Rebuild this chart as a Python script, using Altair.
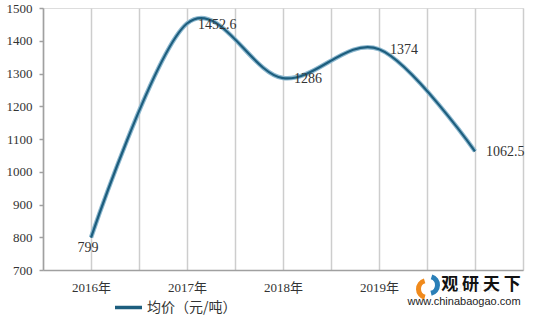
import json
import altair as alt
import pandas as pd

years = ["2016年", "2017年", "2018年", "2019年", "2020年"]
prices = [799, 1452.6, 1286, 1374, 1062.5]
price_labels = ["799", "1452.6", "1286", "1374", "1062.5"]
series_name = "均价（元/吨）"
y_ticks = [700, 800, 900, 1000, 1100, 1200, 1300, 1400, 1500]
x_grid = [-0.5, 0, 0.5, 1, 1.5, 2, 2.5, 3, 3.5, 4, 4.5]
logo_title = ["观 研 天 下"]
logo_url = ["www.chinabaogao.com"]

df = pd.DataFrame({
    "idx": list(range(len(years))),
    "year": years,
    "price": prices,
    "label": price_labels,
    "series": [series_name] * len(years),
})

SERIF = "Liberation Serif, Noto Sans CJK SC"
TXT = "#333333"

label_expr = "datum.value % 1 === 0 ? " + json.dumps(years, ensure_ascii=False) + "[datum.value] : ''"

x_enc = alt.X(
    "idx:Q",
    scale=alt.Scale(domain=[-0.5, 4.5], nice=False, zero=False),
    axis=alt.Axis(
        values=x_grid, grid=True, gridColor="#cdcdcd", gridWidth=1.5,
        ticks=False, domainColor="#a0a0a0", domainWidth=1.5,
        labelExpr=label_expr, title=None, labelFont=SERIF, labelFontSize=13,
        labelPadding=11, labelColor=TXT, labelOverlap=False, labelFlush=False,
    ),
)
y_enc = alt.Y(
    "price:Q",
    scale=alt.Scale(domain=[700, 1500], nice=False, zero=False),
    axis=alt.Axis(
        values=y_ticks, format="d", grid=False, tickSize=4, tickColor="#a0a0a0", tickWidth=1.5,
        domainColor="#a0a0a0", domainWidth=1.5, title=None, labelFont=SERIF,
        labelFontSize=13, labelPadding=7, labelColor=TXT,
    ),
)

base = alt.Chart(df).encode(x=x_enc, y=y_enc)

outer = base.mark_line(interpolate="cardinal", tension=0, color="#8db8cf", strokeWidth=4.5)
inner = base.mark_line(interpolate="cardinal", tension=0, strokeWidth=2.2).encode(
    color=alt.Color(
        "series:N",
        scale=alt.Scale(domain=[series_name], range=["#1d5e7e"]),
        legend=alt.Legend(
            title=None, orient="none", legendX=70, legendY=284,
            symbolType="stroke", symbolSize=729, symbolStrokeWidth=3.5,
            labelFont="Noto Sans CJK SC", labelFontSize=14, labelColor=TXT,
            labelOffset=3,
        ),
    )
)

first_label = base.transform_filter("datum.idx == 0").mark_text(
    align="center", baseline="middle", dx=-3, dy=10, font=SERIF, fontSize=14, color=TXT
).encode(text="label:N")
other_labels = base.transform_filter("datum.idx > 0").mark_text(
    align="left", baseline="middle", dx=11, dy=1, font=SERIF, fontSize=14, color=TXT
).encode(text="label:N")

logo_bg = alt.Chart(pd.DataFrame({"t": logo_title})).mark_rect(
    color="white", opacity=0.92
).encode(x=alt.value(367), x2=alt.value(482), y=alt.value(266), y2=alt.value(304))
logo_text = alt.Chart(pd.DataFrame({"t": logo_title})).mark_text(
    font="Noto Sans CJK SC", fontSize=17, fontWeight="bold", color="#111111",
    align="center", baseline="middle",
).encode(x=alt.value(438), y=alt.value(277), text="t:N")
logo_sub = alt.Chart(pd.DataFrame({"t": logo_url})).mark_text(
    font="Liberation Sans", fontSize=11, color="#222222", align="center", baseline="middle",
).encode(x=alt.value(421), y=alt.value(294), text="t:N")
logo_icon1 = alt.Chart(pd.DataFrame({"t": logo_title})).mark_arc(
    color="#f08a1c", innerRadius=6, outerRadius=11, theta=3.4, theta2=6.0
).encode(x=alt.value(384), y=alt.value(281))
logo_icon2 = alt.Chart(pd.DataFrame({"t": logo_title})).mark_arc(
    color="#2a7fb8", innerRadius=6, outerRadius=11, theta=0.3, theta2=2.9
).encode(x=alt.value(386), y=alt.value(277))

chart = alt.layer(
    outer, inner, first_label, other_labels, logo_bg, logo_icon1, logo_icon2, logo_text, logo_sub
).properties(
    width=480, height=262,
    autosize=alt.AutoSizeParams(type="none"),
    padding={"left": 43, "top": 8, "right": 10, "bottom": 46},
).configure_view(stroke="#bdbdbd", strokeWidth=1.5).configure(background="white")

chart.save("out.html", embed_options={"renderer": "svg", "actions": False})
